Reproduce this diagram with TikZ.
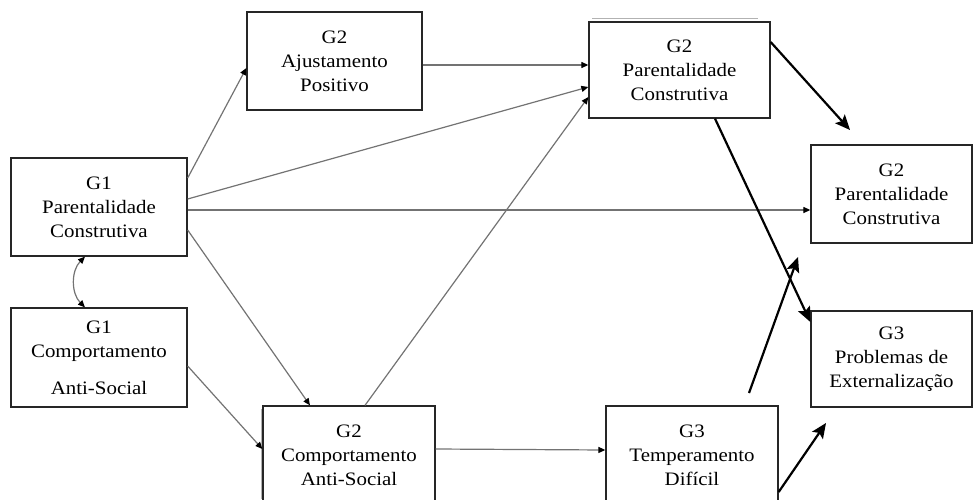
\documentclass[tikz,border=0pt]{standalone}
\usepackage{fontspec}
\setmainfont{Liberation Serif}[FakeStretch=1.1]
\usetikzlibrary{arrows.meta,calc}
\tikzset{
  smalltip/.tip={Triangle[length=7pt,width=6pt,color=black,fill=black]},
  bigtip/.tip={Stealth[length=15pt,width=13pt,inset=3pt]},
}
\begin{document}
\begin{tikzpicture}[x=1pt,y=1pt,
  box/.style={draw=black!85,line width=1.3pt,fill=white,align=center,inner sep=0pt,
    font=\fontsize{19}{24}\selectfont},
  link/.style={draw=black!55,line width=1.2pt,-smalltip},
  strong/.style={draw=black,line width=2.2pt,-bigtip},
  ghost/.style={draw=black!30,line width=1pt},
]
\useasboundingbox (0,0) rectangle (973,499);
\clip (0,0) rectangle (973,499);

% faint double edges behind two boxes
\draw[ghost] (592,480) -- (758,480);
\draw[ghost] (261,90) -- (261,0);

% variables
\node[box,minimum width=176pt,minimum height=98pt] (g1p) at (99,292)
  {G1\\Parentalidade\\Construtiva};
\node[box,minimum width=176pt,minimum height=99pt] (g1c) at (99,141.5)
  {G1\\Comportamento\\[13pt]Anti-Social};
\node[box,minimum width=175pt,minimum height=98pt] (ajust) at (334.5,438)
  {G2\\Ajustamento\\Positivo};
\node[box,minimum width=181pt,minimum height=96pt] (g2p) at (679.5,429)
  {G2\\Parentalidade\\Construtiva};
\node[box,minimum width=161pt,minimum height=98pt] (g2pr) at (891.5,305)
  {G2\\Parentalidade\\Construtiva};
\node[box,minimum width=161pt,minimum height=96pt] (g3) at (891.5,140)
  {G3\\Problemas de\\Externalização};
\node[box,minimum width=172pt,minimum height=98pt] (g2c) at (349,44)
  {G2\\Comportamento\\Anti-Social};
\node[box,minimum width=172pt,minimum height=98pt] (temp) at (692,44)
  {G3\\Temperamento\\Difícil};

% free ends of the heavy paths
\coordinate (e1) at (850,369);
\coordinate (t1s) at (749,106);
\coordinate (t1e) at (798,242);
\coordinate (t2e) at (826,76);

% thin paths
\draw[link] ([yshift=29pt]g1p.east) -- ([yshift=-7pt]ajust.west);
\draw[link] ([yshift=8pt]g1p.east) -- ([yshift=-17pt]g2p.west);
\draw[link] ([yshift=-3pt]g1p.east) -- ([yshift=-16pt]g2pr.west);
\draw[link] ([yshift=-23pt]g1p.east) -- ([xshift=-39pt]g2c.north);
\draw[link] ([yshift=-4pt]ajust.east) -- ([yshift=5pt]g2p.west);
\draw[link] ([yshift=-8.5pt]g1c.east) -- ([yshift=6pt]g2c.west);
\draw[link] ([xshift=16pt]g2c.north) -- ([yshift=-27pt]g2p.west);
\draw[link] ([yshift=6pt]g2c.east) -- ([yshift=5pt]temp.west);
\draw[link,smalltip-smalltip] ([xshift=-14pt]g1p.south) to[out=225,in=135] ([xshift=-14pt]g1c.north);

% heavy paths
\draw[strong] ([yshift=28pt]g2p.east) -- (e1);
\draw[strong] ([xshift=35.5pt]g2p.south) -- ([yshift=37pt]g3.west);
\draw[strong] (t1s) -- (t1e);
\draw[strong] ([yshift=-37pt]temp.east) -- (t2e);
\end{tikzpicture}
\end{document}
